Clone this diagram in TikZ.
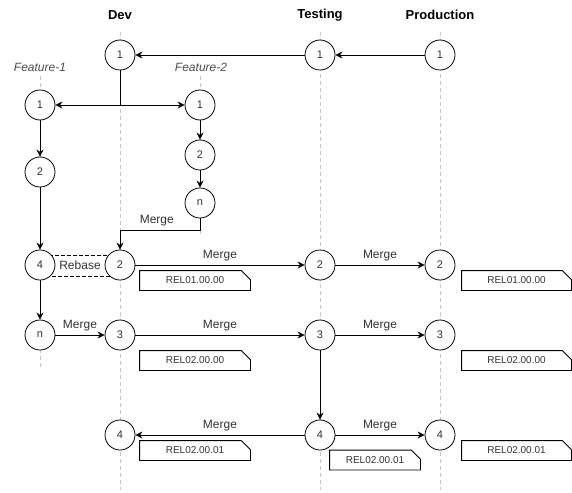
\documentclass[tikz,border=0pt]{standalone}
\usepackage{fontspec}
\setmainfont{Liberation Sans}
\usetikzlibrary{arrows.meta}

\tikzset{
  commit/.style={circle,draw,fill=white,minimum size=30pt,inner sep=0pt,
    font=\fontsize{11}{13}\selectfont,text=black!80},
  lane/.style={draw=black!22,dashed,dash pattern=on 4pt off 3pt},
  arr/.style={-{Stealth[length=7pt,width=7pt]}},
  lbl/.style={font=\fontsize{12}{14}\selectfont,text=black!80},
  head/.style={font=\fontsize{13}{15}\selectfont\bfseries},
  feat/.style={font=\fontsize{12}{14}\selectfont\itshape,text=black!70},
  tag/.style={rectangle,minimum height=19pt,inner sep=0pt,
    font=\fontsize{10}{12}\selectfont,text=black!80},
}
% release tag: name, centre, width, text
\newcommand{\reltag}[4]{%
  \node[tag,minimum width=#3] (#1) at (#2) {#4};
  \draw (#1.south west) -- (#1.north west) -- ([xshift=-9pt]#1.north east)
    -- ([yshift=-9pt]#1.north east) -- (#1.south east) -- cycle;}

\begin{document}
\begin{tikzpicture}[x=1pt,y=-1pt,line width=0.8pt]
      \useasboundingbox (0,0) rectangle (572,492);
      % lanes
      \node[head] (hdev) at (120,15) {Dev};
      \node[head] (htest) at (320,15) {Testing};
      \node[head] (hprod) at (440,15) {Production};
      \node[feat] (hf1) at (40,67) {Feature-1};
      \node[feat] (hf2) at (201,67) {Feature-2};
      \draw[lane] (120,32) -- (120,490);
      \draw[lane] (320,32) -- (320,490);
      \draw[lane] (440,32) -- (440,490);
      \draw[lane] (40,76) -- (40,370);
      \draw[lane] (200,76) -- (200,235);
      % rebase box
      \node[draw,dashed,dash pattern=on 4pt off 2pt,minimum width=80pt,minimum height=21pt,
        inner sep=0pt,lbl] (rebase) at (80,265.5) {Rebase};
      % commits
      \node[commit] (d1) at (120,55) {1};
      \node[commit] (t1) at (320,55) {1};
      \node[commit] (p1) at (440,55) {1};
      \node[commit] (f11) at (40,105) {1};
      \node[commit] (f12) at (40,172) {2};
      \node[commit] (f14) at (40,265) {4};
      \node[commit] (f1n) at (40,335) {n};
      \node[commit] (f21) at (200,105) {1};
      \node[commit] (f22) at (200,155) {2};
      \node[commit] (f2n) at (200,203) {n};
      \node[commit] (d2) at (120,265) {2};
      \node[commit] (t2) at (320,265) {2};
      \node[commit] (p2) at (440,265) {2};
      \node[commit] (d3) at (120,335) {3};
      \node[commit] (t3) at (320,335) {3};
      \node[commit] (p3) at (440,335) {3};
      \node[commit] (d4) at (120,435) {4};
      \node[commit] (t4) at (320,435) {4};
      \node[commit] (p4) at (440,435) {4};
      % branches
      \draw[arr] (p1) -- (t1);
      \draw[arr] (t1) -- (d1);
      \draw[arr] (d1.south) |- (f11.east);
      \draw[arr] (d1.south) |- (f21.west);
      \draw[arr] (f11) -- (f12);
      \draw[arr] (f12) -- (f14);
      \draw[arr] (f14) -- (f1n);
      \draw[arr] (f21) -- (f22);
      \draw[arr] (f22) -- (f2n);
      \coordinate (mrg) at (200,230);
      \draw[arr] (f2n.south) -- (mrg) -| node[lbl,above,pos=0.27] {Merge} (d2.north);
      % merges
      \draw[arr] (f1n) -- node[lbl,above] {Merge} (d3);
      \draw[arr] (d2) -- node[lbl,above] {Merge} (t2);
      \draw[arr] (t2) -- node[lbl,above] {Merge} (p2);
      \draw[arr] (d3) -- node[lbl,above] {Merge} (t3);
      \draw[arr] (t3) -- node[lbl,above] {Merge} (p3);
      \draw[arr] (t3) -- (t4);
      \draw[arr] (t4) -- node[lbl,above] {Merge} (d4);
      \draw[arr] (t4) -- node[lbl,above] {Merge} (p4);
      % tags
      \reltag{rd1}{195,280.5}{110pt}{REL01.00.00}
      \reltag{rp1}{516.5,280.5}{109pt}{REL01.00.00}
      \reltag{rd2}{195,360.5}{110pt}{REL02.00.00}
      \reltag{rp2}{516.5,360.5}{109pt}{REL02.00.00}
      \reltag{rd3}{195,450.5}{110pt}{REL02.00.01}
      \reltag{rt3}{375,460}{90pt}{REL02.00.01}
      \reltag{rp3}{516.5,450.5}{109pt}{REL02.00.01}
\end{tikzpicture}
\end{document}
